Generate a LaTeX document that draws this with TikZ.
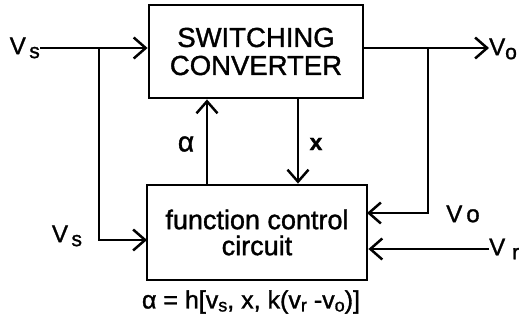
\documentclass[tikz,border=0pt]{standalone}
\usepackage{fontspec}
\setmainfont{Liberation Sans}
\newfontfamily\thk{Liberation Sans}[FakeBold=1.3]
\usetikzlibrary{arrows.meta}
\newcommand{\lab}[2]{#1\raisebox{-4pt}{\fontsize{21}{21}\selectfont #2}}
\newcommand{\sbs}[1]{\raisebox{-3pt}{\fontsize{18}{18}\selectfont #1}}
\begin{document}
\begin{tikzpicture}[x=1pt,y=-1pt,
  blk/.style={draw,line width=2.8pt,inner sep=0pt,align=center,font=\thk\fontsize{27.5}{28}\selectfont},
  wire/.style={line width=2.5pt},
  arr/.style={wire,-{Straight Barb[length=12pt,width=21pt,line width=2.5pt]}},
  lbl/.style={inner sep=0pt,font=\thk\fontsize{24}{24}\selectfont}]
\useasboundingbox (0,0) rectangle (525,320);
\node[blk,minimum width=214,minimum height=93] (sw) at (256,51.5) {SWITCHING\\CONVERTER};
\node[blk,minimum width=220,minimum height=95,font=\thk\fontsize{27}{26}\selectfont] (fc) at (257,232.5) {function control\\circuit};
% labels
\node[lbl,anchor=east] (vs) at (40,48) {\lab{V}{\,s}};
\node[lbl,anchor=west] (vo) at (489,49) {\lab{V}{o}};
\node[lbl] (vs2) at (67,236) {\lab{V}{\,s}};
\node[lbl] (vo2) at (463,214) {V\,o};
\node[lbl,anchor=west] (vr) at (489,249) {\lab{V}{\,\,r}};
\node[lbl,font=\thk\fontsize{28}{28}\selectfont] (al) at (186,144) {α};
\node[lbl,font=\thk\bfseries\fontsize{23}{23}\selectfont] (xl) at (316,144) {x};
\node[lbl,font=\thk\fontsize{25}{25}\selectfont] (eq) at (251,302) {α = h[v\sbs{s}, x, k(v\sbs{r} -v\sbs{o})]};
% coordinates
\coordinate (j1) at (99,48);
\coordinate (j2) at (428,48);
\coordinate (fcinS) at (147,240);
\coordinate (fcinO) at (367,213);
\coordinate (ax) at (207,0);
\coordinate (xx) at (298,0);
% connectors
\draw[arr] (vs.east) -- (sw.west |- vs.east);
\draw[wire] (j1) |- (fcinS);
\draw[arr] (j1 |- fcinS) -- (fcinS);
\draw[arr] (sw.east |- j2) -- (vo.west |- j2);
\draw[arr] (j2) |- (fcinO);
\draw[arr] (vr.west) -- (fc.east |- vr.west);
\draw[arr] (fc.north -| ax) -- (sw.south -| ax);
\draw[arr] (sw.south -| xx) -- (fc.north -| xx);
\end{tikzpicture}
\end{document}
